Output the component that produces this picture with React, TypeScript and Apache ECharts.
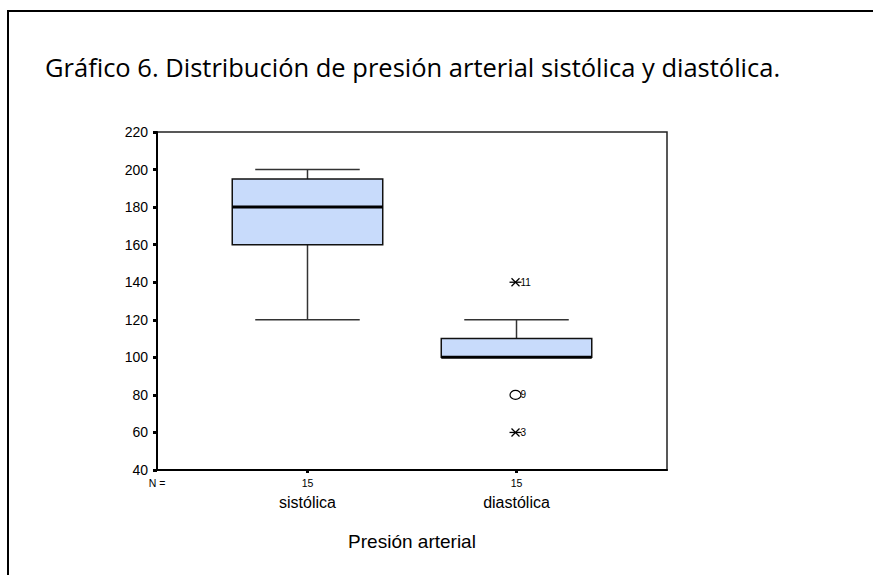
import React, { useEffect, useRef } from "react";
import * as echarts from "echarts";

const titleText = "Gráfico 6. Distribución de presión arterial sistólica y diastólica.";
const categories = ["sistólica", "diastólica"];
const counts = [15, 15];
// [whiskerLow, q1, median, q3, whiskerHigh]
const boxStats = [
  [120, 160, 180, 195, 200],
  [100, 100, 100, 110, 120],
];
// [categoryIndex, value, caseLabel, kind]
const outliers: [number, number, string, string][] = [
  [1, 140, "11", "extreme"],
  [1, 80, "9", "outlier"],
  [1, 60, "3", "extreme"],
];
const yTicks = [40, 60, 80, 100, 120, 140, 160, 180, 200, 220];
const axisTitle = "Presión arterial";

export default function App() {
  const ref = useRef<HTMLDivElement>(null);
  useEffect(() => {
    if (!ref.current) return;
    const chart = echarts.init(ref.current, null, { renderer: "svg" });
    const xMin = -0.72;
    const boxData = boxStats.map((s, i) => [i, ...s]);
    chart.setOption({
      animation: false,
      backgroundColor: "#fff",
      grid: {
        left: 157,
        top: 132,
        right: 206,
        bottom: 105,
        show: true,
        borderColor: "#222",
        borderWidth: 1.5,
        backgroundColor: "transparent",
      },
      graphic: [
        {
          type: "polyline",
          shape: { points: [[8, 575], [8, 11], [873, 11]] },
          style: { stroke: "#000", lineWidth: 2, fill: "none" },
          silent: true,
        },
        {
          type: "text",
          x: 45,
          y: 67,
          style: {
            text: titleText,
            fontFamily: "Open Sans",
            fontSize: 25.5,
            fill: "#000",
            verticalAlign: "middle",
          },
        },
      ],
      xAxis: {
        type: "value",
        min: xMin,
        max: 1.72,
        splitLine: { show: false },
        axisLine: { show: true, onZero: false, lineStyle: { color: "#000", width: 2 } },
        axisTick: {
          show: true,
          customValues: categories.map((_, i) => i),
          length: 3,
          lineStyle: { color: "#000", width: 3 },
        },
        axisLabel: {
          customValues: [xMin, ...categories.map((_, i) => i)],
          margin: 6,
          formatter: (v: number) => {
            const i = Math.round(v);
            if (v < -0.5) return "{n|N =}";
            return `{n|${counts[i]}}\n{c|${categories[i]}}`;
          },
          rich: {
            n: { fontFamily: "Liberation Sans", fontSize: 10.5, lineHeight: 14, color: "#000" },
            c: { fontFamily: "Liberation Sans", fontSize: 16, lineHeight: 24, color: "#000" },
          },
        },
        name: axisTitle,
        nameLocation: "middle",
        nameGap: 62,
        nameTextStyle: { fontFamily: "Liberation Sans", fontSize: 19, color: "#000" },
      },
      yAxis: {
        type: "value",
        min: 40,
        max: 220,
        interval: 20,
        splitLine: { show: false },
        axisLine: { show: true, onZero: false, lineStyle: { color: "#000", width: 2 } },
        axisTick: { show: true, length: 4, lineStyle: { color: "#000", width: 3 } },
        axisLabel: {
          margin: 9,
          fontFamily: "Liberation Sans",
          fontSize: 14,
          color: "#000",
          formatter: (v: number) => (yTicks.includes(v) ? String(v) : ""),
        },
      },
      series: [
        {
          type: "custom",
          data: boxData,
          encode: { x: 0, y: [1, 2, 3, 4, 5] },
          renderItem: (params: any, api: any) => {
            const x = api.value(0);
            const lo = api.value(1);
            const q1 = api.value(2);
            const med = api.value(3);
            const q3 = api.value(4);
            const hi = api.value(5);
            const boxW = api.size([0.72, 0])[0];
            const capW = api.size([0.5, 0])[0];
            const pLo = api.coord([x, lo]);
            const pQ1 = api.coord([x, q1]);
            const pMed = api.coord([x, med]);
            const pQ3 = api.coord([x, q3]);
            const pHi = api.coord([x, hi]);
            const cx = pMed[0];
            const wStyle = { stroke: "#333", lineWidth: 1.5 };
            const children: any[] = [];
            if (hi > q3) {
              children.push({ type: "line", shape: { x1: cx, y1: pHi[1], x2: cx, y2: pQ3[1] }, style: wStyle });
              children.push({ type: "line", shape: { x1: cx - capW / 2, y1: pHi[1], x2: cx + capW / 2, y2: pHi[1] }, style: wStyle });
            }
            if (lo < q1) {
              children.push({ type: "line", shape: { x1: cx, y1: pLo[1], x2: cx, y2: pQ1[1] }, style: wStyle });
              children.push({ type: "line", shape: { x1: cx - capW / 2, y1: pLo[1], x2: cx + capW / 2, y2: pLo[1] }, style: wStyle });
            }
            children.push({
              type: "rect",
              shape: { x: cx - boxW / 2, y: pQ3[1], width: boxW, height: pQ1[1] - pQ3[1] },
              style: { fill: "#c8dbfb", stroke: "#111", lineWidth: 1.5 },
            });
            children.push({
              type: "line",
              shape: { x1: cx - boxW / 2, y1: pMed[1], x2: cx + boxW / 2, y2: pMed[1] },
              style: { stroke: "#000", lineWidth: 3 },
            });
            return { type: "group", children };
          },
          z: 2,
        },
        {
          type: "custom",
          data: outliers,
          encode: { x: 0, y: 1 },
          renderItem: (params: any, api: any) => {
            const item = outliers[params.dataIndex];
            const p = api.coord([item[0], item[1]]);
            const cx = p[0] - 1;
            const cy = p[1];
            const children: any[] = [];
            if (item[3] === "extreme") {
              const st = { stroke: "#000", lineWidth: 1.3 };
              children.push({ type: "line", shape: { x1: cx - 6, y1: cy, x2: cx + 6, y2: cy }, style: st });
              children.push({ type: "line", shape: { x1: cx - 4, y1: cy - 4, x2: cx + 4, y2: cy + 4 }, style: st });
              children.push({ type: "line", shape: { x1: cx - 4, y1: cy + 4, x2: cx + 4, y2: cy - 4 }, style: st });
            } else {
              children.push({
                type: "ellipse",
                shape: { cx: cx, cy: cy, rx: 5.5, ry: 4.5 },
                style: { fill: "#fff", stroke: "#000", lineWidth: 1.2 },
              });
            }
            children.push({
              type: "text",
              x: cx + 5,
              y: cy,
              style: {
                text: item[2],
                fontFamily: "Liberation Sans",
                fontSize: 10,
                fill: "#000",
                verticalAlign: "middle",
              },
            });
            return { type: "group", children };
          },
          z: 3,
        },
      ],
    });
    return () => chart.dispose();
  }, []);
  return (
    <div
      ref={ref}
      style={{ position: "fixed", left: 0, top: 0, width: 873, height: 575 }}
    />
  );
}
